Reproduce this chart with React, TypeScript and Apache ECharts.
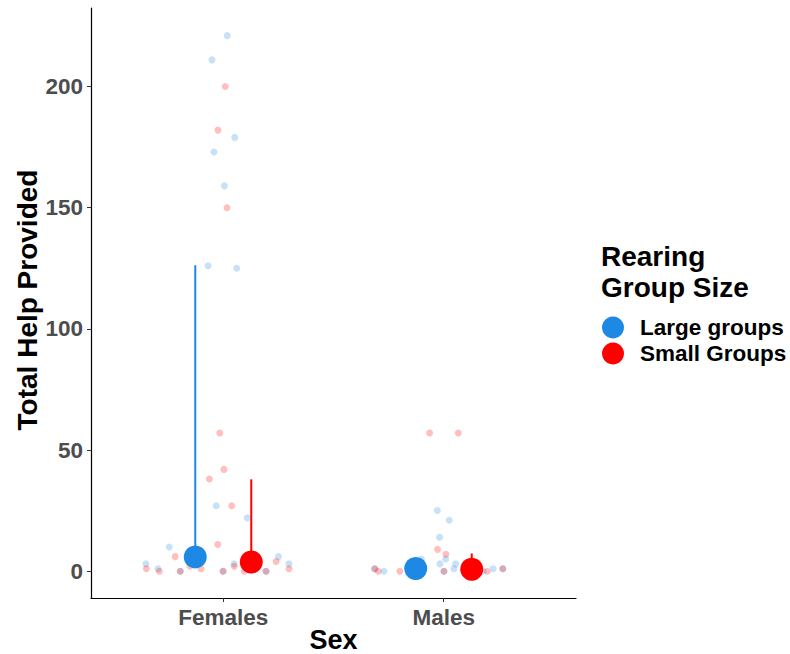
import React, { useEffect, useRef } from "react";
import * as echarts from "echarts";

// Categories
const sexes = ["Females", "Males"];
const groupNames = ["Large groups", "Small Groups"];
const yTicks = [0, 50, 100, 150, 200];
const xTitle = "Sex";
const yTitle = "Total Help Provided";
const legendTitle = "Rearing\nGroup Size";

// Raw observations (value) and their horizontal jitter offset from the category centre
const femaleLargeValues = [221, 211, 179, 173, 159, 126, 125, 27, 22, 10, 6, 3, 3, 3, 1, 0, 0, 0];
const femaleLargeJitter = [0.018, -0.051, 0.052, -0.042, 0.005, -0.069, 0.061, -0.032, 0.109, -0.245, 0.25, -0.351, 0.298, 0.049, -0.296, -0.195, -0.001, 0.194];

const femaleSmallValues = [200, 182, 150, 57, 42, 38, 27, 11, 6, 4, 1, 0, 2, 1, 2, 0, 1, 0, 0, 0];
const femaleSmallJitter = [0.009, -0.024, 0.017, -0.016, 0.003, -0.063, 0.038, -0.025, -0.218, 0.24, -0.349, -0.29, -0.151, -0.101, 0.05, 0.095, 0.298, -0.195, -0.001, 0.194];

const maleLargeValues = [25, 21, 14, 5, 5, 3, 3, 1, 0, 0, 1, 1, 0, 1];
const maleLargeJitter = [-0.029, 0.025, -0.019, -0.102, 0.009, -0.017, 0.054, 0.046, -0.271, 0.179, 0.224, -0.313, 0.001, 0.268];

const maleSmallValues = [57, 57, 9, 7, 0, 0, 0, 1, 0, 1];
const maleSmallJitter = [-0.064, 0.066, -0.028, 0.01, -0.297, -0.199, 0.197, -0.313, 0.001, 0.268];

// Summary points (centre) and upper end of error bar, per sex
const largeCentre = [5.9, 1.1];
const largeUpper = [126.2, 4.5];
const smallCentre = [3.8, 0.8];
const smallUpper = [37.9, 7.3];
const dodge = [-0.127, 0.127];

const BLUE = "#1E88E5";
const RED = "#FF0000";

function jittered(catIdx: number, values: number[], jitter: number[]) {
  return values.map((v, i) => [catIdx + 1 + jitter[i], v]);
}

export default function App() {
  const ref = useRef<HTMLDivElement>(null);
  useEffect(() => {
    if (!ref.current) return;
    const chart = echarts.init(ref.current, null, { renderer: "svg" });
    const font = "'Liberation Sans', Arial, sans-serif";

    const bigSeries = (name: string, color: string, centre: number[], g: number) => ({
      name,
      type: "scatter",
      symbol: "circle",
      symbolSize: 23,
      itemStyle: { color, opacity: 1 },
      z: 5,
      data: sexes.map((_, i) => [i + 1 + dodge[g], centre[i]]),
    });
    const barSeries = (name: string, color: string, centre: number[], upper: number[], g: number, i: number) => ({
      name,
      type: "line",
      symbol: "none",
      lineStyle: { color, width: 2 },
      z: 4,
      data: [
        [i + 1 + dodge[g], centre[i]],
        [i + 1 + dodge[g], upper[i]],
      ],
    });

    chart.setOption({
      animation: false,
      textStyle: { fontFamily: font },
      grid: { left: 91, right: 214, top: 8, bottom: 56, containLabel: false, outerBoundsMode: "none" },
      legend: {
        data: groupNames,
        orient: "vertical",
        left: 602,
        top: 316,
        padding: 0,
        icon: "circle",
        itemWidth: 22,
        itemHeight: 22,
        itemGap: 3,
        selectedMode: false,
        textStyle: {
          fontFamily: font,
          fontSize: 22.5,
          fontWeight: "bold",
          color: "#000",
          padding: [0, 0, 0, 11],
        },
      },
      graphic: [
        {
          type: "text",
          left: 601,
          top: 241,
          style: {
            text: legendTitle,
            font: `bold 28px ${font}`,
            fill: "#000",
            lineHeight: 31,
          },
        },
        {
          type: "text",
          x: 333.5,
          y: 640,
          style: {
            text: xTitle,
            font: `bold 27px ${font}`,
            fill: "#000",
            align: "center",
            verticalAlign: "middle",
          },
        },
        {
          type: "text",
          x: 27,
          y: 300,
          rotation: Math.PI / 2,
          style: {
            text: yTitle,
            font: `bold 28px ${font}`,
            fill: "#000",
            align: "center",
            verticalAlign: "middle",
          },
        },
      ],
      xAxis: {
        type: "value",
        min: 0.4,
        max: 2.6,
        splitLine: { show: false },
        axisLine: { show: true, onZero: false, lineStyle: { color: "#000", width: 1.2 } },
        axisTick: { show: true, length: 4, lineStyle: { color: "#333" }, customValues: [1, 2] },
        axisLabel: {
          customValues: [1, 2],
          margin: 8,
          fontSize: 22.5,
          fontWeight: "bold",
          color: "#4D4D4D",
          formatter: (v: number) => sexes[Math.round(v) - 1] ?? "",
        },
      },
      yAxis: {
        type: "value",
        min: -11.07,
        max: 232.4,
        splitLine: { show: false },
        axisLine: { show: true, onZero: false, lineStyle: { color: "#000", width: 1.2 } },
        axisTick: { show: true, length: 4, lineStyle: { color: "#333" }, customValues: yTicks },
        axisLabel: {
          customValues: yTicks,
          margin: 8,
          fontSize: 22.5,
          fontWeight: "bold",
          color: "#4D4D4D",
        },
      },
      series: [
        {
          name: "Large raw",
          type: "scatter",
          symbolSize: 7,
          itemStyle: { color: BLUE, opacity: 0.25 },
          z: 2,
          data: [
            ...jittered(0, femaleLargeValues, femaleLargeJitter),
            ...jittered(1, maleLargeValues, maleLargeJitter),
          ],
        },
        {
          name: "Small raw",
          type: "scatter",
          symbolSize: 7,
          itemStyle: { color: RED, opacity: 0.25 },
          z: 3,
          data: [
            ...jittered(0, femaleSmallValues, femaleSmallJitter),
            ...jittered(1, maleSmallValues, maleSmallJitter),
          ],
        },
        barSeries("Large bar F", BLUE, largeCentre, largeUpper, 0, 0),
        barSeries("Large bar M", BLUE, largeCentre, largeUpper, 0, 1),
        barSeries("Small bar F", RED, smallCentre, smallUpper, 1, 0),
        barSeries("Small bar M", RED, smallCentre, smallUpper, 1, 1),
        bigSeries(groupNames[0], BLUE, largeCentre, 0),
        bigSeries(groupNames[1], RED, smallCentre, 1),
      ],
    });
    return () => chart.dispose();
  }, []);
  return <div ref={ref} style={{ width: 790, height: 654, position: "absolute", left: 0, top: 0 }} />;
}
